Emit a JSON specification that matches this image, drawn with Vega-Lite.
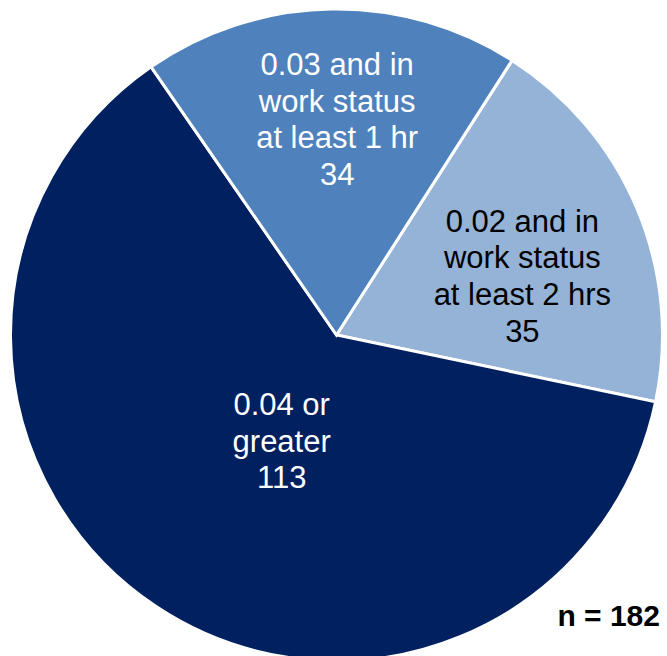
{
  "$schema": "https://vega.github.io/schema/vega-lite/v6.json",
  "width": 661,
  "height": 642,
  "autosize": "none",
  "padding": {"left": 6, "top": 14, "right": 0, "bottom": 0},
  "background": "white",
  "title": {
    "text": "n = 182",
    "orient": "bottom",
    "anchor": "end",
    "frame": "group",
    "offset": -41,
    "dx": -7,
    "baseline": "alphabetic",
    "font": "Liberation Sans",
    "fontSize": 30,
    "fontWeight": "bold",
    "color": "black"
  },
  "data": {
    "values": [
      {"category": "0.02 and in work status at least 2 hrs", "label": "0.02 and in\nwork status\nat least 2 hrs\n35", "value": 35, "order": 1},
      {"category": "0.04 or greater", "label": "0.04 or\ngreater\n113", "value": 113, "order": 2},
      {"category": "0.03 and in work status at least 1 hr", "label": "0.03 and in\nwork status\nat least 1 hr\n34", "value": 34, "order": 3}
    ]
  },
  "encoding": {
    "theta": {"field": "value", "type": "quantitative", "stack": true, "scale": {"range": [0.569, 6.852]}},
    "order": {"field": "order", "type": "quantitative"}
  },
  "layer": [
    {
      "mark": {"type": "arc", "radius": 326, "stroke": "white", "strokeWidth": 3},
      "encoding": {
        "color": {
          "field": "category",
          "type": "nominal",
          "scale": {
            "domain": ["0.02 and in work status at least 2 hrs", "0.04 or greater", "0.03 and in work status at least 1 hr"],
            "range": ["#95B3D7", "#002060", "#4F81BD"]
          },
          "legend": null
        }
      }
    },
    {
      "mark": {"type": "text", "radius": 194, "dx": 7, "dy": -37, "font": "Liberation Sans", "fontSize": 31, "lineHeight": 36.6, "lineBreak": "\n", "fill": "black", "align": "center", "baseline": "middle"},
      "encoding": {
        "text": {"condition": {"test": "datum.order == 1", "field": "label"}, "value": ""}
      }
    },
    {
      "mark": {"type": "text", "radius": 119, "dx": 11, "dy": -28, "font": "Liberation Sans", "fontSize": 31, "lineHeight": 36.6, "lineBreak": "\n", "fill": "white", "align": "center", "baseline": "middle"},
      "encoding": {
        "text": {"condition": {"test": "datum.order == 2", "field": "label"}, "value": ""}
      }
    },
    {
      "mark": {"type": "text", "radius": 214, "dx": 4.5, "dy": -55, "font": "Liberation Sans", "fontSize": 31, "lineHeight": 36.6, "lineBreak": "\n", "fill": "white", "align": "center", "baseline": "middle"},
      "encoding": {
        "text": {"condition": {"test": "datum.order == 3", "field": "label"}, "value": ""}
      }
    }
  ]
}
